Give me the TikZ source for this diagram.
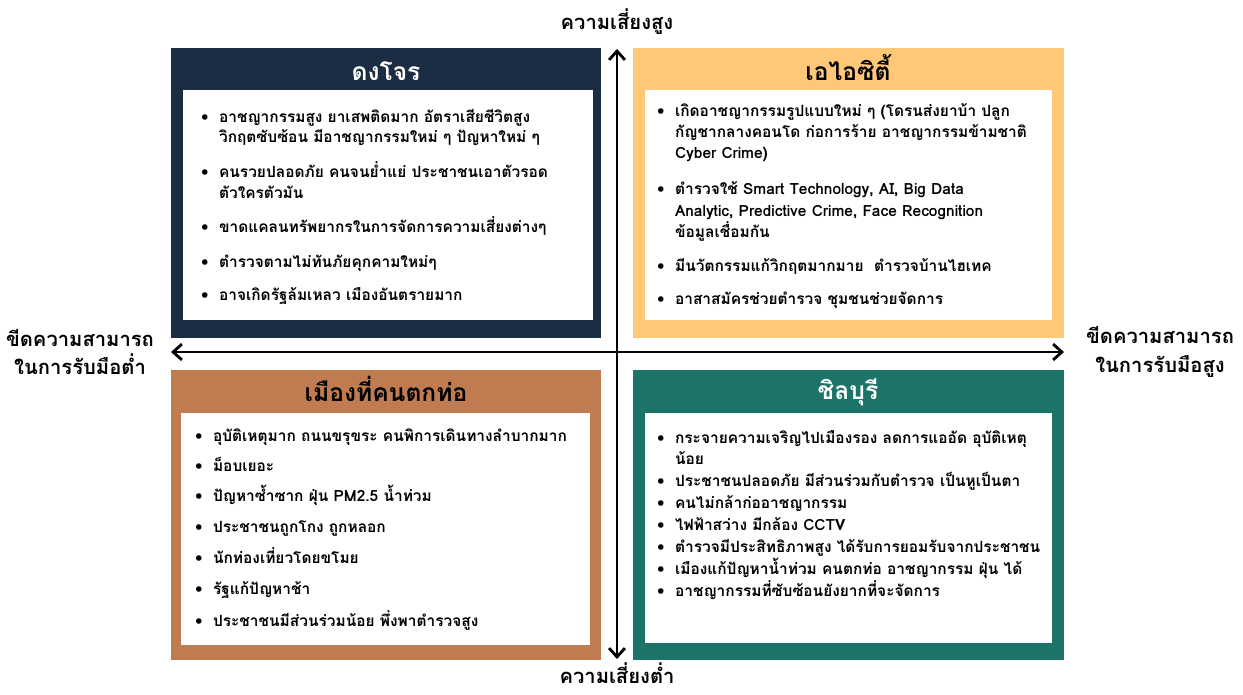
\documentclass[tikz,border=0pt]{standalone}
\usepackage{fontspec}
\setmainfont{Loma}[Script=Thai]
\usetikzlibrary{arrows.meta}

\definecolor{navy}{HTML}{1B2D42}
\definecolor{mango}{HTML}{FFC878}
\definecolor{clay}{HTML}{C17B51}
\definecolor{teal}{HTML}{1C7468}

\newcommand{\bul}{\textbullet\hspace{6pt}}
\newcommand{\ind}{\phantom{\textbullet}\hspace{6pt}}

\tikzset{
  title/.style={anchor=base, font=\bfseries\fontsize{14}{16}\selectfont, inner sep=0pt},
  item/.style={anchor=base west, inner sep=0pt, font=\bfseries\fontsize{8.8}{11}\selectfont},
  axis/.style={font=\bfseries\fontsize{11.5}{16.4}\selectfont, align=center, inner sep=0pt},
  tip/.style={line width=1.6pt, {Straight Barb[length=5pt,width=9pt]}-{Straight Barb[length=5pt,width=9pt]}},
}

\begin{document}
\begin{tikzpicture}[x=0.02cm, y=-0.02cm]
  \useasboundingbox (0,0) rectangle (1243,694);

  % quadrants
  \draw[fill=navy, draw=none] (171,48) rectangle (601,338); %dong jon
  \draw[fill=white, draw=none] (183,90) rectangle (593,320);
  \draw[fill=mango, draw=none] (633,48) rectangle (1064,338); %ai city
  \draw[fill=white, draw=none] (645,90) rectangle (1052,320);
  \draw[fill=clay, draw=none] (171,370) rectangle (601,660); %muang
  \draw[fill=white, draw=none] (181,413) rectangle (590,645);
  \draw[fill=teal, draw=none] (633,370) rectangle (1064,660); %chill
  \draw[fill=white, draw=none] (645,413) rectangle (1052,643);

  % titles
  \node[title, text=white] (tlt) at (386,80) {ดงโจร};
  \node[title] (trt) at (848,80) {เอไอซิตี้};
  \node[title] (blt) at (386,401) {เมืองที่คนตกท่อ};
  \node[title, text=white] (brt) at (848,399) {ชิลบุรี};

  % dong jon
  \node[item] (tl1) at (201,122) {\bul อาชญากรรมสูง ยาเสพติดมาก อัตราเสียชีวิตสูง};
  \node[item] (tl1b) at (201,142) {\ind วิกฤตซับซ้อน มีอาชญากรรมใหม่ ๆ ปัญหาใหม่ ๆ};
  \node[item] (tl2) at (201,177) {\bul คนรวยปลอดภัย คนจนย่ำแย่ ประชาชนเอาตัวรอด};
  \node[item] (tl2b) at (201,198) {\ind ตัวใครตัวมัน};
  \node[item] (tl3) at (201,232) {\bul ขาดแคลนทรัพยากรในการจัดการความเสี่ยงต่างๆ};
  \node[item] (tl4) at (201,267) {\bul ตำรวจตามไม่ทันภัยคุกคามใหม่ๆ};
  \node[item] (tl5) at (201,300) {\bul อาจเกิดรัฐล้มเหลว เมืองอันตรายมาก};

  % ai city
  \node[item] (tr1) at (657,116) {\bul เกิดอาชญากรรมรูปแบบใหม่ ๆ (โดรนส่งยาบ้า ปลูก};
  \node[item] (tr1b) at (657,137) {\ind กัญชากลางคอนโด ก่อการร้าย อาชญากรรมข้ามชาติ};
  \node[item] (tr1c) at (657,158) {\ind Cyber Crime)};
  \node[item] (tr2) at (657,194) {\bul ตำรวจใช้ Smart Technology, AI, Big Data};
  \node[item] (tr2b) at (657,216) {\ind Analytic, Predictive Crime, Face Recognition};
  \node[item] (tr2c) at (657,237) {\ind ข้อมูลเชื่อมกัน};
  \node[item] (tr3) at (657,271) {\bul มีนวัตกรรมแก้วิกฤตมากมาย\ \ ตำรวจบ้านไฮเทค};
  \node[item] (tr4) at (657,304) {\bul อาสาสมัครช่วยตำรวจ ชุมชนช่วยจัดการ};

  % muang thi khon tok tho
  \node[item] (bl1) at (195,441) {\bul อุบัติเหตุมาก ถนนขรุขระ คนพิการเดินทางลำบากมาก};
  \node[item] (bl2) at (195,471) {\bul ม็อบเยอะ};
  \node[item] (bl3) at (195,501) {\bul ปัญหาซ้ำซาก ฝุ่น PM2.5 น้ำท่วม};
  \node[item] (bl4) at (195,532) {\bul ประชาชนถูกโกง ถูกหลอก};
  \node[item] (bl5) at (195,563) {\bul นักท่องเที่ยวโดยขโมย};
  \node[item] (bl6) at (195,594) {\bul รัฐแก้ปัญหาช้า};
  \node[item] (bl7) at (195,626) {\bul ประชาชนมีส่วนร่วมน้อย พึ่งพาตำรวจสูง};

  % chill buri
  \node[item] (br1) at (657,443) {\bul กระจายความเจริญไปเมืองรอง ลดการแออัด อุบัติเหตุ};
  \node[item] (br1b) at (657,464) {\ind น้อย};
  \node[item] (br2) at (657,486) {\bul ประชาชนปลอดภัย มีส่วนร่วมกับตำรวจ เป็นหูเป็นตา};
  \node[item] (br3) at (657,508) {\bul คนไม่กล้าก่ออาชญากรรม};
  \node[item] (br4) at (657,530) {\bul ไฟฟ้าสว่าง มีกล้อง CCTV};
  \node[item] (br5) at (657,552) {\bul ตำรวจมีประสิทธิภาพสูง ได้รับการยอมรับจากประชาชน};
  \node[item] (br6) at (657,574) {\bul เมืองแก้ปัญหาน้ำท่วม คนตกท่อ อาชญากรรม ฝุ่น ได้};
  \node[item] (br7) at (657,596) {\bul อาชญากรรมที่ซับซ้อนยังยากที่จะจัดการ};

  % axes
  \node[axis, anchor=base] (hi) at (617,29) {ความเสี่ยงสูง};
  \node[axis, anchor=base] (lo) at (617,683) {ความเสี่ยงต่ำ};
  \node[axis] (weak) at (80,352) {ขีดความสามารถ\\ในการรับมือต่ำ};
  \node[axis] (strong) at (1160,352) {ขีดความสามารถ\\ในการรับมือสูง};
  \coordinate (top) at (617,49);
  \coordinate (bottom) at (617,659);
  \coordinate (left) at (171,352);
  \coordinate (right) at (1064,352);
  \draw[tip] (top) -- (bottom);
  \draw[tip] (left) -- (right);
\end{tikzpicture}
\end{document}
